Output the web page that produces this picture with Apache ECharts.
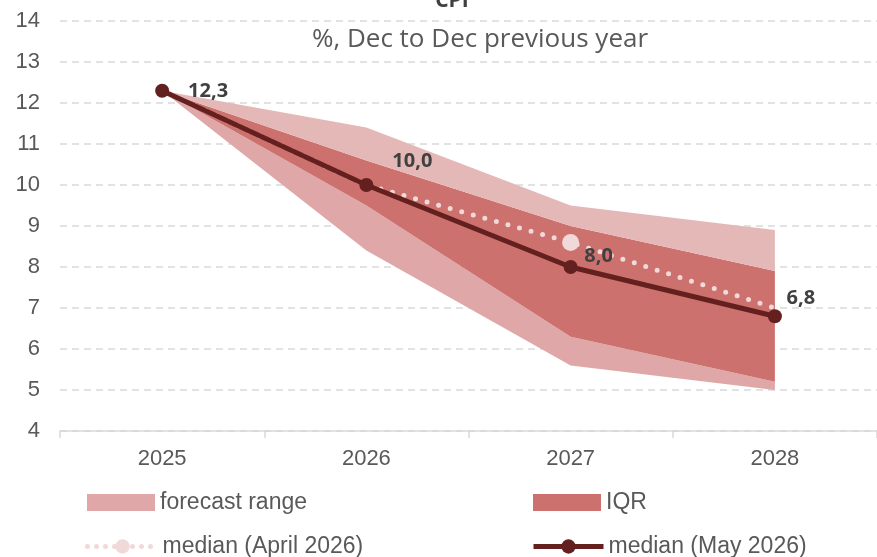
<!DOCTYPE html>
<html>
<head>
<meta charset="utf-8">
<script src="https://cdn.jsdelivr.net/npm/echarts@6/dist/echarts.min.js"></script>
<style>
  html, body { margin: 0; padding: 0; background: #fff; }
</style>
</head>
<body>
<div id="main" style="width: 877px;height:557px;"></div>
<script type="text/javascript">
    // data
    var years = ['2025', '2026', '2027', '2028'];
    var rangeLow = [12.3, 8.4, 5.6, 5.0];
    var rangeHigh = [12.3, 11.4, 9.5, 8.9];
    var iqrLow = [12.3, 9.5, 6.3, 5.2];
    var iqrHigh = [12.3, 10.6, 9.0, 7.9];
    var medianApril = [12.3, 10.0, 8.6, 7.0];
    var medianMay = [12.3, 10.0, 8.0, 6.8];
    // label offsets for the May median points
    var mayLabelOffsets = [[46, 1], [46, -24], [28, -11], [26, -18]];

    var narrow = '"Liberation Sans Narrow", "Liberation Sans", sans-serif';
    var labelFont = '"Open Sans", "Noto Sans", sans-serif';

    function diff(a, b) {
        return a.map(function (v, i) { return Math.round((v - b[i]) * 100) / 100; });
    }

    var myChart = echarts.init(document.getElementById('main'));

    var bandCommon = {
        type: 'line',
        stack: 'band',
        symbol: 'none',
        lineStyle: { opacity: 0 },
        silent: true
    };

    var legendText = { fontFamily: narrow, fontSize: 23, color: '#595959' };

    var option = {
        animation: false,
        title: [
            {
                text: 'CPI',
                left: 447, textAlign: 'center',
                top: -14,
                textStyle: { fontFamily: labelFont, fontSize: 21, fontWeight: 'bold', color: '#404040' }
            },
            {
                text: '%, Dec to Dec previous year',
                left: 475, textAlign: 'center',
                top: 22,
                textStyle: { fontFamily: labelFont, fontSize: 26, fontWeight: 'normal', color: '#595959' }
            }
        ],
        grid: { left: 60, right: 0, top: 21, bottom: 126 },
        legend: [
            {
                data: [{ name: 'forecast range', icon: 'rect' }],
                left: 87, top: 491, padding: 0, itemWidth: 68, itemHeight: 17,
                textStyle: legendText
            },
            {
                data: [{ name: 'IQR', icon: 'rect' }],
                left: 533, top: 491, padding: 0, itemWidth: 68, itemHeight: 17,
                textStyle: legendText
            },
            {
                data: ['median (April 2026)'],
                left: 85, top: 535, padding: 0, itemWidth: 70, itemHeight: 18,
                lineStyle: { width: 5, type: [0, 9], cap: 'round' },
                textStyle: legendText
            },
            {
                data: ['median (May 2026)'],
                left: 531, top: 535, padding: 0, itemWidth: 70, itemHeight: 18,
                lineStyle: { width: 5 },
                textStyle: legendText
            }
        ],
        xAxis: {
            type: 'category',
            data: years,
            boundaryGap: true,
            axisLine: { lineStyle: { color: '#d9d9d9', width: 1.5 } },
            axisTick: { show: true, length: 7, lineStyle: { color: '#d9d9d9', width: 1.5 } },
            axisLabel: { fontFamily: narrow, fontSize: 22, color: '#595959', margin: 17 }
        },
        yAxis: {
            type: 'value',
            min: 4, max: 14, interval: 1,
            axisLine: { show: false },
            axisTick: { show: false },
            axisLabel: { fontFamily: narrow, fontSize: 22, color: '#595959', margin: 20 },
            splitLine: { lineStyle: { color: '#d9d9d9', type: [7, 5], width: 1.5 } }
        },
        series: [
            Object.assign({}, bandCommon, {
                name: 'base',
                data: rangeLow,
                areaStyle: { opacity: 0 }
            }),
            Object.assign({}, bandCommon, {
                name: 'forecast range',
                data: diff(iqrLow, rangeLow),
                itemStyle: { color: '#dfa7a7' },
                areaStyle: { color: '#dfa7a7', opacity: 1 }
            }),
            Object.assign({}, bandCommon, {
                name: 'IQR',
                data: diff(iqrHigh, iqrLow),
                itemStyle: { color: '#cc716d' },
                areaStyle: { color: '#cc716d', opacity: 1 }
            }),
            Object.assign({}, bandCommon, {
                name: 'forecast range',
                data: diff(rangeHigh, iqrHigh),
                itemStyle: { color: '#e5b8b8' },
                areaStyle: { color: '#e5b8b8', opacity: 1 }
            }),
            {
                name: 'median (April 2026)',
                type: 'line',
                data: medianApril.map(function (v, i) {
                    return { value: v, symbolSize: i === 2 ? 17 : 0 };
                }),
                symbol: 'circle',
                symbolSize: 17,
                itemStyle: { color: '#f2d9d9' },
                lineStyle: { color: '#f2d9d9', width: 5, type: [0, 12], cap: 'round' },
                z: 3
            },
            {
                name: 'median (May 2026)',
                type: 'line',
                data: medianMay.map(function (v, i) {
                    return {
                        value: v,
                        label: { position: 'inside', offset: mayLabelOffsets[i] }
                    };
                }),
                symbol: 'circle',
                symbolSize: 14,
                itemStyle: { color: '#64201f' },
                lineStyle: { color: '#64201f', width: 5 },
                label: {
                    show: true,
                    fontFamily: labelFont,
                    fontSize: 20,
                    fontWeight: 'bold',
                    color: '#404040',
                    formatter: function (p) { return p.value.toFixed(1).replace('.', ','); }
                },
                z: 4
            }
        ]
    };

    myChart.setOption(option);
</script>
</body>
</html>
